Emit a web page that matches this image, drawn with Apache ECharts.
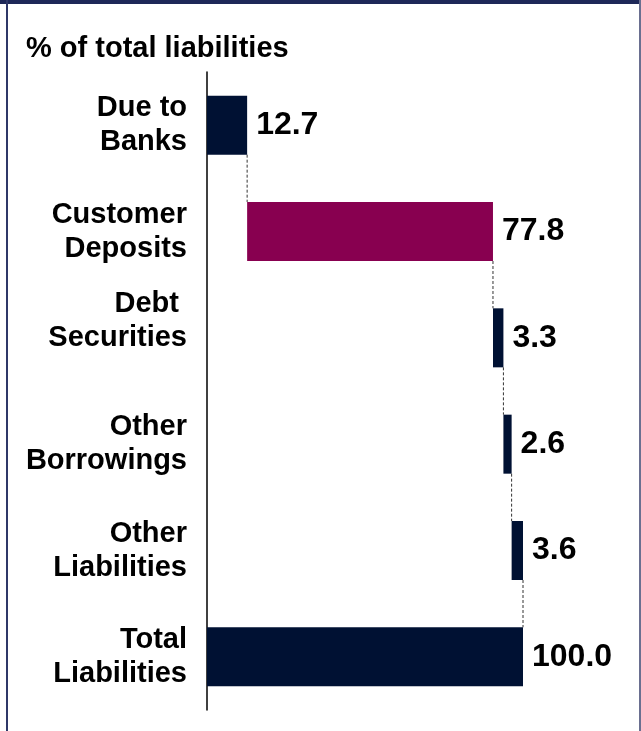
<!DOCTYPE html>
<html>
<head>
<meta charset="utf-8">
<script src="https://cdn.jsdelivr.net/npm/echarts@6/dist/echarts.min.js"></script>
<style>
  html, body { margin: 0; padding: 0; background: #fff; }
  #chart { width: 641px; height: 731px; }
</style>
</head>
<body>
<div id="chart"></div>
<script>
// Liability breakdown, % of total liabilities
const categories = ['Due to\nBanks', 'Customer\nDeposits', 'Debt \nSecurities\n', 'Other\nBorrowings', 'Other\nLiabilities', 'Total\nLiabilities'];
const values = [12.7, 77.8, 3.3, 2.6, 3.6, 100.0];
const isTotal = [false, false, false, false, false, true];
const highlight = [false, true, false, false, false, false];

const NAVY = '#001133';
const MAROON = '#880050';
const BAR_FRAC = 0.555;
const FONT = 'Liberation Sans, Arial, sans-serif';

// invisible offsets so each component starts where the previous one ended
const offsets = [];
let running = 0;
values.forEach((v, i) => {
  if (isTotal[i]) { offsets.push(0); }
  else { offsets.push(running); running += v; }
});
const ends = values.map((v, i) => offsets[i] + v);

const chart = echarts.init(document.getElementById('chart'));
chart.setOption({
  animation: false,
  backgroundColor: '#fff',
  title: {
    text: '% of total liabilities',
    left: 21, top: 29,
    textStyle: { fontFamily: FONT, fontWeight: 'bold', fontSize: 29, color: '#000' }
  },
  graphic: [
    { type: 'rect', shape: { x: 0, y: 0, width: 641, height: 4 }, style: { fill: '#1e2858' } },
    { type: 'rect', shape: { x: 6, y: 0, width: 2, height: 731 }, style: { fill: '#2f3868' } },
    { type: 'rect', shape: { x: 639, y: 0, width: 2, height: 731 }, style: { fill: '#6a6f90' } }
  ],
  grid: { left: 207, right: 118, top: 72, bottom: 21 },
  xAxis: {
    type: 'value', min: 0, max: 100, show: false
  },
  yAxis: {
    type: 'category', data: categories, inverse: true,
    axisLine: { show: true, lineStyle: { color: '#000', width: 1.5 } },
    axisTick: { show: false },
    axisLabel: {
      margin: 20, align: 'right', lineHeight: 34,
      fontFamily: FONT, fontWeight: 'bold', fontSize: 29, color: '#000'
    }
  },
  series: [
    {
      type: 'bar', stack: 'w', barWidth: (BAR_FRAC * 100) + '%',
      itemStyle: { color: 'transparent' },
      silent: true,
      data: offsets
    },
    {
      type: 'bar', stack: 'w', barWidth: (BAR_FRAC * 100) + '%',
      data: values.map((v, i) => ({ value: v, itemStyle: { color: highlight[i] ? MAROON : NAVY } })),
      label: {
        show: true, position: 'right', distance: 9,
        formatter: p => p.value.toFixed(1),
        fontFamily: FONT, fontWeight: 'bold', fontSize: 32, color: '#000'
      }
    },
    {
      // dashed connectors from each bar's end down to the next bar
      type: 'custom',
      data: ends.slice(0, -1).map((e, i) => [e, i]),
      renderItem: (params, api) => {
        const x = api.value(0), i = api.value(1);
        const p1 = api.coord([x, i]);
        const p2 = api.coord([x, i + 1]);
        const half = api.size([0, 1])[1] * BAR_FRAC / 2;
        return {
          type: 'line',
          shape: { x1: p1[0], y1: p1[1] + half, x2: p2[0], y2: p2[1] - half },
          style: { stroke: '#333', lineWidth: 1, lineDash: [3, 2] }
        };
      },
      encode: { x: 0, y: 1 },
      silent: true
    }
  ]
});
</script>
</body>
</html>
